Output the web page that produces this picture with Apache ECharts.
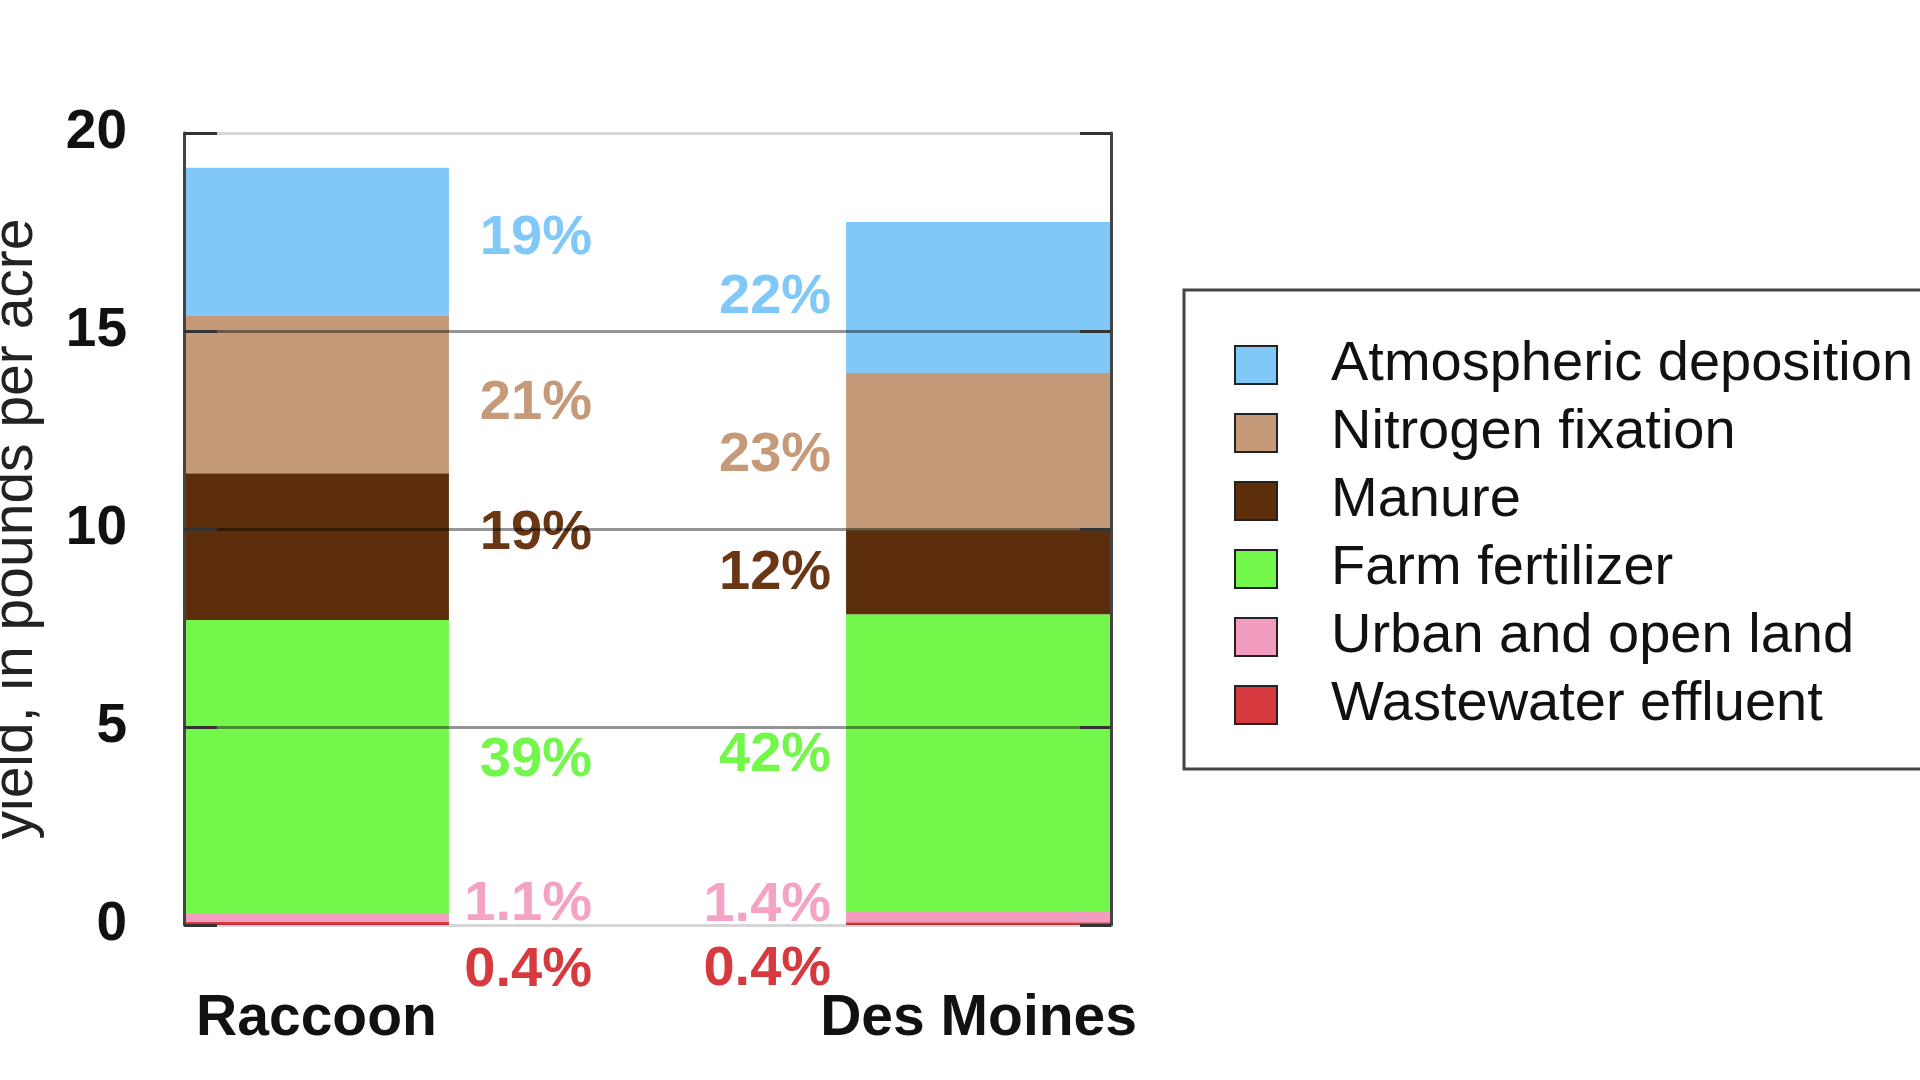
<!DOCTYPE html>
<html>
<head>
<meta charset="utf-8">
<title>Nitrogen yield by source</title>
<script src="https://cdn.jsdelivr.net/npm/echarts@6/dist/echarts.min.js"></script>
<style>
  html, body { margin: 0; padding: 0; background: #fff; }
  #chart { width: 1920px; height: 1080px; }
</style>
</head>
<body>
<div id="chart"></div>
<script>
// --- data (stack order: bottom -> top) ---
var sites = ['Raccoon', 'Des Moines'];
var sources = ['Wastewater effluent', 'Urban and open land', 'Farm fertilizer', 'Manure', 'Nitrogen fixation', 'Atmospheric deposition'];
var raccoon = [0.08, 0.20, 7.42, 3.71, 3.99, 3.72];
var desMoines = [0.07, 0.26, 7.52, 2.12, 3.97, 3.81];
var raccoonPct = ['0.4%', '1.1%', '39%', '19%', '21%', '19%'];
var desMoinesPct = ['0.4%', '1.4%', '42%', '12%', '23%', '22%'];
var yTicks = [0, 5, 10, 15, 20];
var legendOrder = ['Atmospheric deposition', 'Nitrogen fixation', 'Manure', 'Farm fertilizer', 'Urban and open land', 'Wastewater effluent'];

(function() {
  var font = '"Liberation Sans", Arial, Helvetica, sans-serif';
  var colors = ['#d63a3f', '#f29cc0', '#72f74a', '#5c2e0c', '#c49a78', '#80c8f8'];
  var labelColors = ['#d63a3f', '#f4a3c4', '#72f74a', '#6a3614', '#c49a78', '#80c8f8'];
  // vertical nudge of the percent labels, px
  var shiftLeft = [47, -13, -6, -13, 9, -3];
  var shiftRight = [46, -12, -7, 1, 4, 0];
  var values = [raccoon, desMoines];
  var pcts = [raccoonPct, desMoinesPct];

  // the two bars sit at slot 1 and 6 of an 8-slot axis (ticks, no band gap)
  var siteSlots = [1, 6];
  var slots = ['', '', '', '', '', '', '', ''];
  siteSlots.forEach(function(s, i) { slots[s] = sites[i]; });

  var series = sources.map(function(name, k) {
    var data = slots.map(function() { return '-'; });
    sites.forEach(function(site, i) {
      var left = i === 0;
      data[siteSlots[i]] = {
        value: values[i][k],
        label: {
          show: true,
          formatter: pcts[i][k],
          position: left ? ['100%', '50%'] : ['0%', '50%'],
          offset: left ? [143, shiftLeft[k]] : [-15, shiftRight[k]],
          align: 'right',
          verticalAlign: 'middle',
          color: labelColors[k],
          fontFamily: font,
          fontSize: 56,
          fontWeight: 'bold'
        }
      };
    });
    return {
      name: name,
      type: 'bar',
      stack: 'total',
      barWidth: 265,
      itemStyle: { color: colors[k] },
      data: data
    };
  });

  var chart = echarts.init(document.getElementById('chart'), null, { renderer: 'canvas' });
  chart.setOption({
    animation: false,
    backgroundColor: '#fff',
    textStyle: { fontFamily: font },
    grid: { left: 184, right: 809, top: 133, bottom: 155, outerBoundsMode: 'none' },
    legend: {
      data: legendOrder,
      orient: 'vertical',
      left: 1184,
      top: 290,
      padding: [47, 80, 36, 50],
      itemWidth: 42,
      itemHeight: 38,
      itemGap: 12,
      icon: 'rect',
      borderColor: '#444',
      borderWidth: 3,
      itemStyle: { borderColor: '#222', borderWidth: 2 },
      textStyle: { fontFamily: font, fontSize: 56, color: '#111', padding: [0, 0, 0, 49] }
    },
    xAxis: {
      type: 'category',
      data: slots,
      boundaryGap: false,
      axisLine: { show: false },
      axisTick: { show: false },
      splitLine: { show: false },
      axisLabel: {
        interval: 0,
        margin: 66,
        color: '#111',
        fontFamily: font,
        fontSize: 57,
        fontWeight: 'bold'
      }
    },
    yAxis: [{
      type: 'value',
      min: yTicks[0],
      max: yTicks[yTicks.length - 1],
      interval: yTicks[1] - yTicks[0],
      z: 5,
      name: 'yield, in pounds per acre',
      nameLocation: 'middle',
      nameGap: 139,
      nameTextStyle: { fontFamily: font, fontSize: 57, color: '#222' },
      axisLine: { show: true, lineStyle: { color: '#444', width: 3 } },
      axisTick: { show: true, inside: true, length: 33, lineStyle: { color: '#333', width: 3 } },
      axisLabel: { margin: 57, color: '#111', fontFamily: font, fontSize: 55, fontWeight: 'bold' },
      splitLine: {
        show: true,
        lineStyle: {
          width: 3,
          color: ['rgba(0,0,0,0.16)', 'rgba(0,0,0,0.42)', 'rgba(0,0,0,0.42)', 'rgba(0,0,0,0.42)', 'rgba(0,0,0,0.16)']
        }
      }
    }, {
      type: 'value',
      position: 'right',
      min: yTicks[0],
      max: yTicks[yTicks.length - 1],
      interval: yTicks[1] - yTicks[0],
      z: 5,
      axisLine: { show: true, lineStyle: { color: '#444', width: 3 } },
      axisTick: { show: true, inside: true, length: 31, lineStyle: { color: '#333', width: 3 } },
      axisLabel: { show: false },
      splitLine: { show: false }
    }],
    series: series
  });
  window.addEventListener('resize', function() { chart.resize(); });
})();
</script>
</body>
</html>
